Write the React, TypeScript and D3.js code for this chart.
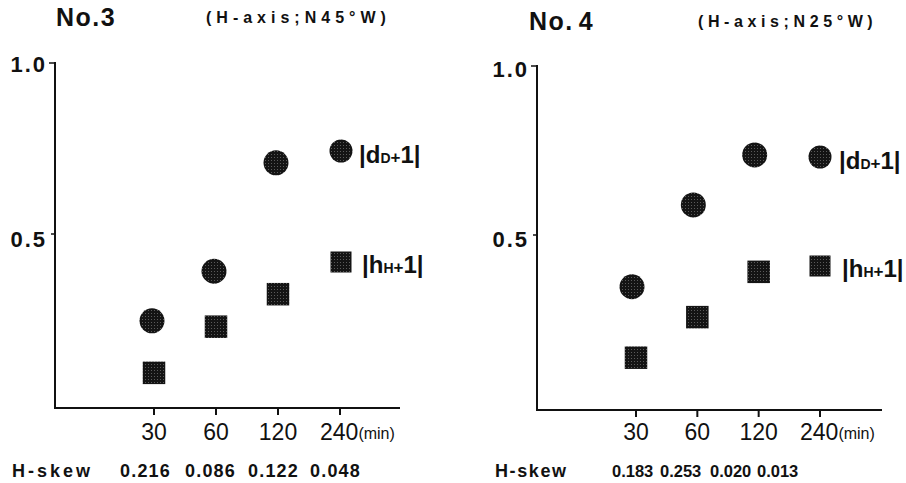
import React from "react";
import * as d3 from "d3";

// ---- data ----
const times = [30, 60, 120, 240];
const timeLabels = ["30", "60", "120", "240"];
const measuredTimes = [30, 60, 120];
const no3D = [0.246, 0.391, 0.708];
const no3H = [0.094, 0.229, 0.324];
const no4D = [0.347, 0.589, 0.737];
const no4H = [0.137, 0.257, 0.391];
const no3Skew = ["0.216", "0.086", "0.122", "0.048"];
const no4Skew = ["0.183", "0.253", "0.020", "0.013"];
const yTicks = [0.5, 1.0];
const yTickLabels = ["0.5", "1.0"];
const titles = ["No.3", "No.4"];
const subtitles = ["(H-axis;N45°W)", "(H-axis;N25°W)"];

// ---- layout ----
const layouts = [
  {
    ax: 55, x0: 154, x1: 340, yTop: 63, yZero: 405, base: 408, xEnd: 400,
    titleX: 56, titleY: 26, subX: 206, subY: 23, subLs: 5,
    legX: 341, legDY: 151, legDTx: 359, legHY: 262, legHTx: 362,
    skewLabelX: 12, skewXs: [120, 185, 248, 310], skewLs: 1.2, skewLabelLs: 3, skewFs: 18,
    y1Off: 9, y5Off: 13,
  },
  {
    ax: 537, x0: 636, x1: 820, yTop: 66, yZero: 404, base: 410, xEnd: 882,
    titleX: 529, titleY: 30, subX: 698, subY: 27, subLs: 4.6,
    legX: 820, legDY: 157, legDTx: 839, legHY: 266, legHTx: 842,
    skewLabelX: 495, skewXs: [612, 660, 710, 757], skewLs: 0, skewLabelLs: 1.6, skewFs: 16.5,
    y1Off: 11, y5Off: 12,
  },
];

const FONT = "'Liberation Sans', Arial, Helvetica, sans-serif";
const INK = "#111";

function Panel({ L, dVals, hVals, skew, title, subtitle, idx }: any) {
  const x = d3.scaleLog().base(2).domain([30, 240]).range([L.x0, L.x1]);
  const y = d3.scaleLinear().domain([0, 1]).range([L.yZero, L.yTop]);
  const fillId = "url(#stipple)";
  const r = 12.5;
  const s = 22.5;
  const legR = 11.5;
  const legS = 21;
  return (
    <g>
      {/* title */}
      <text x={L.titleX} y={L.titleY} fontFamily={FONT} fontWeight="bold" fontSize={25} letterSpacing={1.5} fill={INK}>
        {idx === 0 ? title : (<>{title.slice(0, 3)}<tspan dx={5}>{title.slice(3)}</tspan></>)}
      </text>
      <text x={L.subX} y={L.subY} fontFamily={FONT} fontWeight="bold" fontSize={16} letterSpacing={L.subLs} fill={INK}>
        {subtitle}
      </text>

      {/* axes */}
      <line x1={L.ax} x2={L.ax} y1={y(1) - 1} y2={L.base} stroke={INK} strokeWidth={2} />
      <line x1={L.ax - 1} x2={L.xEnd} y1={L.base} y2={L.base} stroke={INK} strokeWidth={2} />
      {yTicks.map((t, i) => (
        <g key={"yt" + i}>
          <line x1={L.ax - (t === 1 ? 6 : 4)} x2={L.ax} y1={y(t)} y2={y(t)} stroke={INK} strokeWidth={1.5} />
          <text x={L.ax - 8} y={y(t) + (t === 1 ? L.y1Off : L.y5Off)} textAnchor="end"
            fontFamily={FONT} fontWeight="bold" fontSize={22} letterSpacing={2} fill={INK}>
            {yTickLabels[i]}
          </text>
        </g>
      ))}
      {times.map((t, i) => (
        <g key={"xt" + i}>
          <line x1={x(t)} x2={x(t)} y1={L.base} y2={L.base + 7} stroke={INK} strokeWidth={2} />
          {i < times.length - 1 ? (
            <text x={x(t)} y={440} textAnchor="middle" fontFamily={FONT} fontSize={23} fill={INK}>
              {timeLabels[i]}
            </text>
          ) : (
            <text x={x(t) - 20} y={440} fontFamily={FONT} fontSize={23} fill={INK}>
              {timeLabels[i]}
              <tspan fontSize={16} dy={-1}>(min)</tspan>
            </text>
          )}
        </g>
      ))}

      {/* points */}
      {measuredTimes.map((t, i) => (
        <circle key={"d" + i} cx={x(t) - (idx === 0 ? 2 : 4)} cy={y(dVals[i])} r={r} fill={fillId} />
      ))}
      {measuredTimes.map((t, i) => (
        <rect key={"h" + i} x={x(t) - s / 2} y={y(hVals[i]) - s / 2} width={s} height={s} fill={fillId} />
      ))}

      {/* legend */}
      <circle cx={L.legX} cy={L.legDY} r={legR} fill={fillId} />
      <text x={L.legDTx} y={L.legDY + 12} fontFamily={FONT} fontWeight="bold" fontSize={24} fill={INK}>
        |d<tspan fontSize={14}>D</tspan><tspan fontSize={17}>+</tspan>1|
      </text>
      <rect x={L.legX - legS / 2} y={L.legHY - legS / 2} width={legS} height={legS} fill={fillId} />
      <text x={L.legHTx} y={L.legHY + 11} fontFamily={FONT} fontWeight="bold" fontSize={24} fill={INK}>
        |h<tspan fontSize={14}>H</tspan><tspan fontSize={17}>+</tspan>1|
      </text>

      {/* H-skew row */}
      <text x={L.skewLabelX} y={477} fontFamily={FONT} fontWeight="bold" fontSize={18} letterSpacing={L.skewLabelLs} fill={INK}>
        H-skew
      </text>
      {skew.map((v: string, i: number) => (
        <text key={"sk" + i} x={L.skewXs[i]} y={477} fontFamily={FONT} fontWeight="bold" fontSize={L.skewFs} letterSpacing={L.skewLs} fill={INK}>
          {v}
        </text>
      ))}
    </g>
  );
}

export default function App() {
  const dSets = [no3D, no4D];
  const hSets = [no3H, no4H];
  const skews = [no3Skew, no4Skew];
  return (
    <svg width={906} height={483} style={{ position: "absolute", left: 0, top: 0, background: "#fff" }}>
      <defs>
        <pattern id="stipple" width={3} height={3} patternUnits="userSpaceOnUse">
          <rect width={3} height={3} fill="#141414" />
          <rect x={1} y={1} width={1} height={1} fill="#5a5a5a" />
        </pattern>
      </defs>
      <rect width={906} height={483} fill="#fff" />
      {layouts.map((L, i) => (
        <Panel key={i} idx={i} L={L} dVals={dSets[i]} hVals={hSets[i]} skew={skews[i]} title={titles[i]} subtitle={subtitles[i]} />
      ))}
    </svg>
  );
}
